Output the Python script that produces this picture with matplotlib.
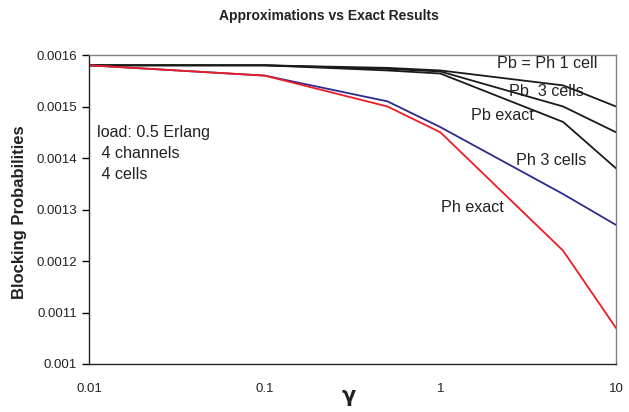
import matplotlib
matplotlib.use("Agg")
import matplotlib.pyplot as plt
from matplotlib.ticker import FixedLocator, FixedFormatter, NullLocator

plt.rcParams['font.family'] = ['Liberation Sans', 'DejaVu Sans']

gamma = [0.01, 0.1, 0.5, 1, 5, 10]
pb_ph_1cell = [0.00158, 0.00158, 0.001575, 0.00157, 0.001541, 0.0015]
pb_3cells = [0.00158, 0.00158, 0.001573, 0.001568, 0.0015, 0.00145]
pb_exact = [0.00158, 0.00158, 0.00157, 0.001564, 0.00147, 0.00138]
ph_3cells = [0.00158, 0.00156, 0.00151, 0.00146, 0.00133, 0.00127]
ph_exact = [0.00158, 0.00156, 0.0015, 0.00145, 0.00122, 0.00107]

yticks = [0.001, 0.0011, 0.0012, 0.0013, 0.0014, 0.0015, 0.0016]
ytick_labels = ["0.001", "0.0011", "0.0012", "0.0013", "0.0014", "0.0015", "0.0016"]
xticks = [0.01, 0.1, 1, 10]
xtick_labels = ["0.01", "0.1", "1", "10"]

fig = plt.figure(figsize=(6.29, 4.12), dpi=100)
ax = fig.add_axes([89/629, 1-364/412, (616-89)/629, (364-55)/412])

lw = 1.3
ax.plot(gamma, pb_ph_1cell, color='#1a1a1a', lw=lw)
ax.plot(gamma, pb_3cells, color='#1a1a1a', lw=lw)
ax.plot(gamma, pb_exact, color='#1a1a1a', lw=lw)
ax.plot(gamma, ph_3cells, color='#2b2b8f', lw=lw)
ax.plot(gamma, ph_exact, color='#ee1c25', lw=lw)

ax.set_xscale('log')
ax.set_xlim(0.01, 10)
ax.set_ylim(0.001, 0.0016)
ax.xaxis.set_major_locator(FixedLocator(xticks))
ax.xaxis.set_major_formatter(FixedFormatter(xtick_labels))
ax.xaxis.set_minor_locator(NullLocator())
ax.yaxis.set_major_locator(FixedLocator(yticks))
ax.yaxis.set_major_formatter(FixedFormatter(ytick_labels))
ax.tick_params(axis='x', length=0, pad=14, labelsize=9.5, colors='#222222')
ax.tick_params(axis='y', length=5, width=1, direction='out', labelsize=9.5, colors='#222222')
ax.tick_params(axis='y', color='black')

for s in ['left', 'bottom']:
    ax.spines[s].set_color('#222222')
    ax.spines[s].set_linewidth(1.0)
for s in ['top', 'right']:
    ax.spines[s].set_color('#808080')
    ax.spines[s].set_linewidth(1.0)

fig.text(329/629, 1-16/412, "Approximations vs Exact Results", ha='center', va='center',
         fontsize=10, fontweight='bold', color='#222222')
fig.text(20/629, 1-212/412, "Blocking Probabilities", ha='center', va='center',
         rotation=90, fontsize=12, fontweight='bold', color='#222222')
fig.text(349/629, 1-396/412, "γ", ha='center', va='center', fontsize=15,
         fontweight='bold', color='#222222', family=['DejaVu Sans'])

tkw = dict(fontsize=11.6, color='#222222', va='center', ha='left')
fig.text(97/629, 1-133/412, "load: 0.5 Erlang", **tkw)
fig.text(97/629, 1-154/412, " 4 channels", **tkw)
fig.text(97/629, 1-175/412, " 4 cells", **tkw)
fig.text(497/629, 1-64/412, "Pb = Ph 1 cell", **tkw)
fig.text(509/629, 1-92/412, "Pb  3 cells", **tkw)
fig.text(471/629, 1-116/412, "Pb exact", **tkw)
fig.text(516/629, 1-161/412, "Ph 3 cells", **tkw)
fig.text(441/629, 1-207/412, "Ph exact", **tkw)

fig.savefig("out.png", dpi=100)
